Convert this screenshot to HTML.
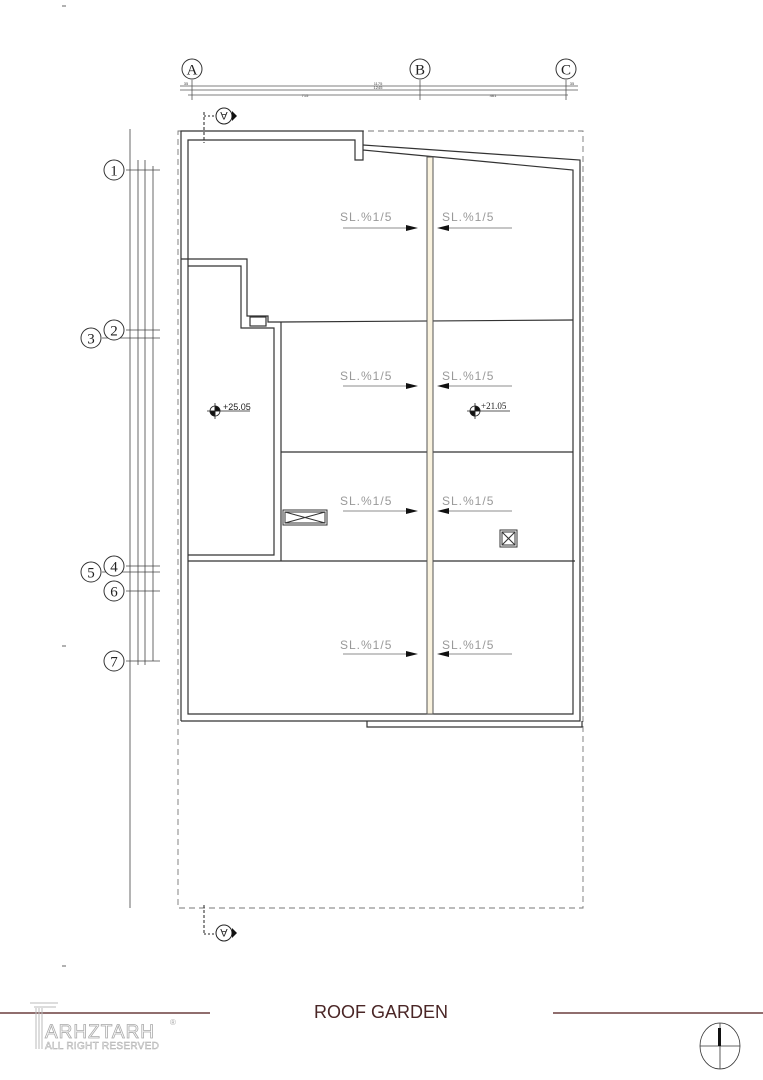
<!DOCTYPE html>
<html><head><meta charset="utf-8"><style>
html,body{margin:0;padding:0;background:#fff;}
svg{display:block;}
.s{font-family:"Liberation Sans",sans-serif;}
.r{font-family:"Liberation Serif",serif;}
</style></head><body>
<svg width="763" height="1080" viewBox="0 0 763 1080" xmlns="http://www.w3.org/2000/svg" class="s">
<rect width="763" height="1080" fill="#fff"/>
<g fill="none" stroke="#333" stroke-width="1">
<circle cx="192" cy="69" r="10"/><circle cx="420" cy="69" r="10"/><circle cx="566" cy="69" r="10"/>
</g>
<g font-size="15" text-anchor="middle" fill="#222" class="r">
<text x="192" y="74.5">A</text><text x="420" y="74.5">B</text><text x="566" y="74.5">C</text>
</g>
<g stroke="#555" stroke-width="0.8">
<line x1="180" y1="86" x2="578" y2="86"/><line x1="180" y1="90" x2="578" y2="90"/><line x1="188" y1="95" x2="568" y2="95"/>
<line x1="192" y1="80" x2="192" y2="100"/><line x1="420" y1="80" x2="420" y2="100"/><line x1="566" y1="80" x2="566" y2="100"/>
</g>
<g font-size="4" fill="#444" text-anchor="middle"><text x="186" y="85">35</text><text x="378" y="85">1175</text><text x="378" y="89">1245</text><text x="305" y="97">715</text><text x="493" y="97">461</text><text x="572" y="85">35</text></g>
<g stroke="#444" stroke-width="0.8">
<line x1="130" y1="129" x2="130" y2="908"/>
<line x1="138" y1="160" x2="138" y2="665"/>
<line x1="145" y1="160" x2="145" y2="665"/>
<line x1="153" y1="166" x2="153" y2="661"/>
<line x1="126" y1="170" x2="160" y2="170"/><line x1="126" y1="330" x2="160" y2="330"/><line x1="102" y1="338" x2="160" y2="338"/>
<line x1="126" y1="566" x2="160" y2="566"/><line x1="102" y1="572" x2="160" y2="572"/><line x1="126" y1="591" x2="160" y2="591"/><line x1="126" y1="661" x2="160" y2="661"/>
</g>
<g fill="#fff" stroke="#333" stroke-width="1">
<circle cx="114" cy="170" r="10"/><circle cx="114" cy="330" r="10"/><circle cx="91" cy="338" r="10"/>
<circle cx="114" cy="566" r="10"/><circle cx="91" cy="572" r="10"/><circle cx="114" cy="591" r="10"/><circle cx="114" cy="661" r="10"/>
</g>
<g font-size="15" text-anchor="middle" fill="#222" class="r">
<text x="114" y="175.5">1</text><text x="114" y="335.5">2</text><text x="91" y="343.5">3</text>
<text x="114" y="571.5">4</text><text x="91" y="577.5">5</text><text x="114" y="596.5">6</text><text x="114" y="666.5">7</text>
</g>
<rect x="178" y="131" width="405" height="777" fill="none" stroke="#777" stroke-width="0.9" stroke-dasharray="6,4"/>
<g fill="none" stroke="#333" stroke-width="1.2">
<polyline points="181,721 181,131 363,131 363,160 355,160 355,140 188,140 188,714 573,714 573,170 363,150"/>
<polyline points="363,145 580,160 580,721 181,721"/>
<polyline points="367,721 367,727 582,727 582,721"/>
<line x1="281" y1="322" x2="573" y2="320"/>
<line x1="281" y1="452" x2="573" y2="452"/>
<line x1="188" y1="561" x2="575" y2="561"/>
<polyline points="281,561 281,322"/>
<polyline points="181,259 247,259 247,316 268,316 268,322 281,322"/>
<polyline points="188,555 274,555 274,328 241,328 241,266 188,266"/>
<rect x="250" y="317" width="16" height="9"/>
</g>
<rect x="427" y="157" width="6" height="557" fill="#faf3df" stroke="#555" stroke-width="1"/>
<g fill="none" stroke="#333" stroke-width="1">
<rect x="283" y="510" width="44" height="15"/><rect x="285" y="512" width="40" height="11"/>
<line x1="285" y1="512" x2="325" y2="523"/><line x1="285" y1="523" x2="325" y2="512"/>
<rect x="500" y="530" width="17" height="17"/><rect x="502" y="532" width="13" height="13"/>
<line x1="502" y1="532" x2="515" y2="545"/><line x1="502" y1="545" x2="515" y2="532"/>
</g>
<g font-size="12" fill="#999" letter-spacing="1">
<text x="340" y="221">SL.%1/5</text><text x="442" y="221">SL.%1/5</text>
<text x="340" y="380">SL.%1/5</text><text x="442" y="380">SL.%1/5</text>
<text x="340" y="505">SL.%1/5</text><text x="442" y="505">SL.%1/5</text>
<text x="340" y="649">SL.%1/5</text><text x="442" y="649">SL.%1/5</text>
</g>
<g stroke="#666" stroke-width="0.8">
<line x1="343" y1="228" x2="410" y2="228"/><line x1="445" y1="228" x2="512" y2="228"/>
<line x1="343" y1="386" x2="410" y2="386"/><line x1="445" y1="386" x2="512" y2="386"/>
<line x1="343" y1="511" x2="410" y2="511"/><line x1="445" y1="511" x2="512" y2="511"/>
<line x1="343" y1="654" x2="410" y2="654"/><line x1="445" y1="654" x2="512" y2="654"/>
</g>
<g fill="#111">
<polygon points="406,225 418,228 406,231"/><polygon points="449,225 437,228 449,231"/>
<polygon points="406,383 418,386 406,389"/><polygon points="449,383 437,386 449,389"/>
<polygon points="406,508 418,511 406,514"/><polygon points="449,508 437,511 449,514"/>
<polygon points="406,651 418,654 406,657"/><polygon points="449,651 437,654 449,657"/>
</g>
<g stroke="#222" stroke-width="0.8">
<circle cx="215" cy="411" r="5" fill="#fff"/><path d="M215 411 L215 406 A5 5 0 0 1 220 411 Z M215 411 L215 416 A5 5 0 0 1 210 411 Z" fill="#111"/>
<line x1="207" y1="411" x2="250" y2="411"/><line x1="215" y1="403" x2="215" y2="419"/>
<circle cx="475" cy="411" r="5" fill="#fff"/><path d="M475 411 L475 406 A5 5 0 0 1 480 411 Z M475 411 L475 416 A5 5 0 0 1 470 411 Z" fill="#111"/>
<line x1="467" y1="411" x2="510" y2="411"/><line x1="475" y1="403" x2="475" y2="419"/>
</g>
<text x="223" y="410" font-size="9" fill="#222">+25.05</text>
<text x="481" y="409" font-size="9" fill="#222" class="r">+21.05</text>
<g stroke="#222" stroke-width="1" fill="none">
<line x1="204" y1="112" x2="204" y2="143" stroke-dasharray="3,2"/><line x1="204" y1="116" x2="214" y2="116" stroke-dasharray="2,2"/>
<circle cx="224" cy="116" r="8"/>
<line x1="204" y1="905" x2="204" y2="934" stroke-dasharray="3,2"/><line x1="204" y1="934" x2="214" y2="934" stroke-dasharray="2,2"/>
<circle cx="224" cy="933" r="8"/>
</g>
<polygon points="232,111 237,116 232,121" fill="#111"/><polygon points="232,928 237,933 232,938" fill="#111"/>
<text x="224" y="120" font-size="11" text-anchor="middle" transform="rotate(180 224 116)" fill="#222">A</text>
<text x="224" y="937" font-size="11" text-anchor="middle" transform="rotate(180 224 933)" fill="#222">A</text>
<g stroke="#666"><line x1="62" y1="6" x2="66" y2="6"/><line x1="62" y1="646" x2="66" y2="646"/><line x1="62" y1="966" x2="66" y2="966"/></g>
<line x1="0" y1="1013" x2="210" y2="1013" stroke="#6b3f3f" stroke-width="1.5"/>
<line x1="553" y1="1013" x2="763" y2="1013" stroke="#6b3f3f" stroke-width="1.5"/>
<text x="381" y="1018" font-size="18" text-anchor="middle" fill="#4a2626">ROOF GARDEN</text>
<g stroke="#bbb" fill="none" stroke-width="1">
<line x1="30" y1="1003" x2="58" y2="1003"/><line x1="34" y1="1007" x2="56" y2="1007"/>
<line x1="36" y1="1008" x2="36" y2="1049"/><line x1="39" y1="1008" x2="39" y2="1049"/><line x1="42" y1="1008" x2="42" y2="1049"/>
</g>
<text x="45" y="1038" font-size="19" fill="#fff" stroke="#aaa" stroke-width="0.8" letter-spacing="1">ARHZTARH</text>
<text x="45" y="1049" font-size="10" fill="#fff" stroke="#aaa" stroke-width="0.5" letter-spacing="0.3">ALL RIGHT RESERVED</text>
<text x="170" y="1025" font-size="8" fill="#aaa">®</text>
<g stroke="#333" fill="none" stroke-width="0.8">
<ellipse cx="720" cy="1046" rx="20" ry="23"/><line x1="700" y1="1046" x2="740" y2="1046"/><line x1="720" y1="1023" x2="720" y2="1069"/>
</g>
<rect x="718" y="1028" width="3" height="18" fill="#111"/>
</svg>
</body></html>
